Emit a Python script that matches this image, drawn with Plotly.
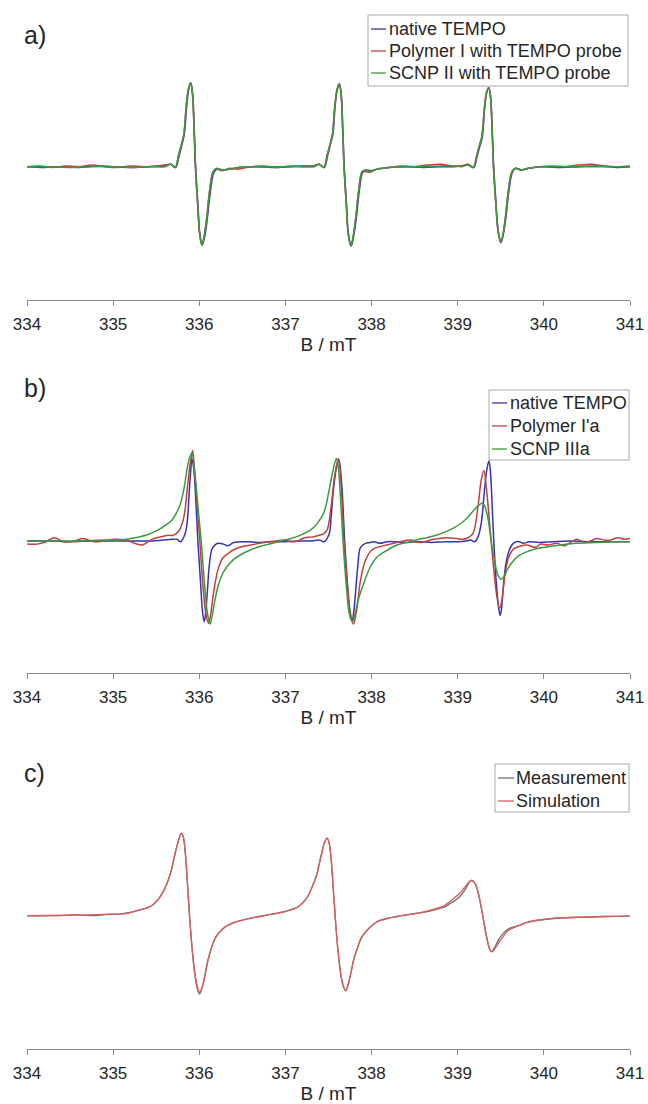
import plotly.graph_objects as go

# ---------------- data (B in mT, intensity in a.u.) ----------------
TICKS = [334, 335, 336, 337, 338, 339, 340, 341]

A_LABELS = ["native TEMPO", "Polymer I with TEMPO probe", "SCNP II with TEMPO probe"]
B_LABELS = ["native TEMPO", "Polymer I'a", "SCNP IIIa"]
C_LABELS = ["Measurement", "Simulation"]

A_BLUE = [(334.00, 0.00), (334.20, -0.01), (334.40, 0.00), (334.60, -0.01), (334.80, 0.01), (335.00, 0.00),
          (335.20, -0.01), (335.40, 0.00), (335.58, 0.01), (335.67, 0.03), (335.725, -0.01), (335.765, 0.13),
          (335.795, 0.26), (335.825, 0.40), (335.855, 0.77), (335.88, 0.98), (335.902, 1.04), (335.922, 0.92),
          (335.942, 0.46), (335.958, 0.00), (335.983, -0.45), (336.008, -0.85), (336.035, -0.98), (336.062, -0.88),
          (336.093, -0.65), (336.13, -0.30), (336.17, -0.07), (336.21, -0.03), (336.27, -0.04), (336.36, -0.03),
          (336.46, -0.01), (336.65, 0.00), (336.85, -0.01), (337.05, 0.00), (337.20, 0.01), (337.33, 0.01),
          (337.39, 0.03), (337.45, -0.01), (337.49, 0.14), (337.52, 0.27), (337.55, 0.40), (337.578, 0.77),
          (337.602, 0.96), (337.625, 1.03), (337.647, 0.92), (337.667, 0.45), (337.683, 0.00), (337.708, -0.45),
          (337.733, -0.85), (337.765, -0.99), (337.79, -0.88), (337.822, -0.65), (337.858, -0.30), (337.897, -0.07),
          (337.94, -0.04), (337.99, -0.05), (338.07, -0.03), (338.20, -0.01), (338.40, 0.00), (338.60, -0.01),
          (338.80, 0.00), (338.95, 0.00), (339.05, 0.01), (339.12, 0.02), (339.185, -0.01), (339.225, 0.13),
          (339.255, 0.25), (339.285, 0.37), (339.313, 0.73), (339.338, 0.93), (339.362, 0.98), (339.382, 0.87),
          (339.402, 0.42), (339.418, 0.00), (339.443, -0.43), (339.473, -0.82), (339.505, -0.94), (339.53, -0.84),
          (339.562, -0.61), (339.598, -0.27), (339.638, -0.06), (339.68, -0.02), (339.74, -0.04), (339.83, -0.02),
          (339.95, 0.00), (340.15, -0.01), (340.40, 0.00), (340.65, 0.01), (340.85, -0.01), (341.00, 0.00)]

A_RED = [(334.00, 0.00), (334.15, 0.01), (334.30, -0.01), (334.45, 0.01), (334.60, 0.00), (334.75, 0.02),
         (334.90, 0.00), (335.05, -0.01), (335.20, 0.01), (335.35, 0.00), (335.50, 0.01), (335.60, 0.02),
         (335.67, 0.03), (335.72, -0.01), (335.76, 0.15), (335.79, 0.27), (335.82, 0.40), (335.85, 0.78),
         (335.875, 0.98), (335.90, 1.05), (335.92, 0.92), (335.94, 0.45), (335.955, 0.00), (335.98, -0.45),
         (336.005, -0.85), (336.03, -0.98), (336.055, -0.88), (336.085, -0.65), (336.12, -0.30), (336.16, -0.07),
         (336.20, -0.03), (336.26, -0.05), (336.35, -0.02), (336.45, -0.03), (336.60, 0.00), (336.75, 0.01),
         (336.90, -0.01), (337.05, 0.01), (337.20, 0.00), (337.33, 0.01), (337.39, 0.03), (337.445, -0.01),
         (337.485, 0.15), (337.515, 0.27), (337.545, 0.40), (337.575, 0.78), (337.60, 0.97), (337.625, 1.04),
         (337.645, 0.92), (337.665, 0.45), (337.68, 0.00), (337.705, -0.45), (337.73, -0.85), (337.76, -0.99),
         (337.785, -0.88), (337.815, -0.65), (337.85, -0.30), (337.89, -0.07), (337.93, -0.06), (337.98, -0.07),
         (338.06, -0.03), (338.20, -0.01), (338.35, 0.01), (338.50, 0.00), (338.65, 0.02), (338.80, 0.03),
         (338.95, 0.01), (339.05, 0.01), (339.12, 0.03), (339.18, -0.01), (339.22, 0.14), (339.25, 0.26),
         (339.28, 0.38), (339.31, 0.74), (339.335, 0.93), (339.36, 0.99), (339.38, 0.88), (339.40, 0.43),
         (339.415, 0.00), (339.44, -0.43), (339.47, -0.82), (339.50, -0.95), (339.525, -0.85), (339.555, -0.62),
         (339.59, -0.28), (339.63, -0.06), (339.67, -0.02), (339.73, -0.04), (339.82, -0.02), (339.95, 0.00),
         (340.10, 0.01), (340.25, 0.00), (340.40, 0.02), (340.55, 0.03), (340.70, 0.01), (340.85, 0.00),
         (341.00, 0.01)]

A_GREEN = [(334.00, 0.00), (334.25, 0.00), (334.50, -0.01), (334.75, 0.00), (335.00, 0.00), (335.25, -0.01),
           (335.45, 0.00), (335.60, 0.00), (335.67, 0.03), (335.72, -0.01), (335.76, 0.15), (335.79, 0.27),
           (335.82, 0.40), (335.85, 0.78), (335.875, 0.98), (335.90, 1.05), (335.92, 0.92), (335.94, 0.45),
           (335.955, 0.00), (335.98, -0.45), (336.005, -0.85), (336.03, -0.98), (336.055, -0.88), (336.085, -0.65),
           (336.12, -0.30), (336.16, -0.06), (336.20, -0.02), (336.26, -0.04), (336.35, -0.03), (336.45, -0.01),
           (336.65, 0.00), (336.85, 0.00), (337.05, 0.00), (337.20, 0.00), (337.33, 0.00), (337.39, 0.03),
           (337.445, -0.01), (337.485, 0.15), (337.515, 0.27), (337.545, 0.40), (337.575, 0.78), (337.60, 0.97),
           (337.625, 1.04), (337.645, 0.92), (337.665, 0.45), (337.68, 0.00), (337.705, -0.45), (337.73, -0.85),
           (337.76, -0.99), (337.785, -0.88), (337.815, -0.65), (337.85, -0.30), (337.89, -0.06), (337.93, -0.04),
           (337.98, -0.06), (338.06, -0.03), (338.20, -0.01), (338.40, 0.00), (338.60, 0.00), (338.80, 0.01),
           (338.95, 0.01), (339.05, 0.00), (339.12, 0.03), (339.18, -0.01), (339.22, 0.14), (339.25, 0.26),
           (339.28, 0.38), (339.31, 0.74), (339.335, 0.93), (339.36, 0.99), (339.38, 0.88), (339.40, 0.43),
           (339.415, 0.00), (339.44, -0.43), (339.47, -0.82), (339.50, -0.945), (339.525, -0.85), (339.555, -0.62),
           (339.59, -0.28), (339.63, -0.06), (339.67, -0.02), (339.73, -0.04), (339.82, -0.02), (339.95, 0.00),
           (340.15, 0.00), (340.40, 0.00), (340.65, 0.00), (340.85, 0.00), (341.00, 0.00)]

B_BLUE = [(334.00, 0.01), (334.25, 0.01), (334.50, 0.00), (334.75, 0.01), (335.00, 0.01), (335.25, 0.01),
          (335.45, 0.01), (335.58, 0.02), (335.68, 0.03), (335.74, 0.03), (335.785, 0.00), (335.835, 0.10),
          (335.86, 0.25), (335.885, 0.65), (335.905, 0.95), (335.915, 1.04), (335.935, 0.92), (335.955, 0.62),
          (335.984, 0.00), (336.015, -0.52), (336.038, -0.88), (336.057, -1.00), (336.075, -0.88), (336.095, -0.60),
          (336.115, -0.31), (336.145, -0.10), (336.184, -0.04), (336.22, -0.02), (336.28, -0.03), (336.33, -0.05),
          (336.40, -0.01), (336.55, 0.00), (336.70, -0.01), (336.85, 0.00), (337.00, 0.00), (337.15, 0.01),
          (337.30, 0.01), (337.40, 0.02), (337.45, 0.00), (337.508, 0.10), (337.53, 0.30), (337.557, 0.65),
          (337.595, 0.94), (337.623, 1.02), (337.643, 0.85), (337.66, 0.62), (337.688, 0.00), (337.72, -0.52),
          (337.75, -0.88), (337.776, -0.98), (337.795, -0.86), (337.815, -0.62), (337.842, -0.28), (337.872, -0.07),
          (337.93, -0.02), (337.98, -0.01), (338.03, 0.00), (338.10, -0.02), (338.18, 0.00), (338.26, 0.00),
          (338.40, -0.01), (338.55, 0.00), (338.70, -0.01), (338.85, 0.00), (339.00, 0.00), (339.10, 0.01),
          (339.15, 0.02), (339.196, 0.00), (339.235, 0.06), (339.273, 0.23), (339.311, 0.65), (339.338, 0.90),
          (339.362, 1.01), (339.378, 0.90), (339.392, 0.65), (339.418, 0.02), (339.446, -0.48), (339.473, -0.81),
          (339.492, -0.92), (339.507, -0.85), (339.525, -0.62), (339.56, -0.27), (339.60, -0.10), (339.637, -0.03),
          (339.68, 0.00), (339.714, 0.00), (339.76, -0.02), (339.83, 0.00), (339.95, -0.01), (340.10, 0.00),
          (340.30, 0.01), (340.50, 0.00), (340.75, 0.00), (341.00, 0.00)]

B_RED = [(334.00, -0.03), (334.12, -0.03), (334.22, 0.00), (334.32, 0.05), (334.42, 0.00), (334.55, 0.01),
         (334.65, 0.04), (334.78, 0.00), (334.90, 0.01), (335.02, 0.03), (335.15, 0.02), (335.25, -0.02),
         (335.34, -0.04), (335.45, 0.03), (335.55, 0.06), (335.64, 0.08), (335.70, 0.08), (335.76, 0.13),
         (335.80, 0.22), (335.83, 0.36), (335.86, 0.66), (335.895, 0.98), (335.923, 1.14), (335.946, 0.86),
         (335.977, 0.44), (336.007, 0.00), (336.04, -0.52), (336.076, -0.90), (336.107, -1.02), (336.13, -0.92),
         (336.16, -0.68), (336.19, -0.48), (336.222, -0.33), (336.27, -0.21), (336.33, -0.15), (336.40, -0.10),
         (336.50, -0.06), (336.60, -0.04), (336.70, -0.02), (336.80, 0.00), (336.90, 0.01), (336.99, 0.02),
         (337.07, 0.00), (337.143, 0.01), (337.20, 0.04), (337.258, 0.055), (337.32, 0.06), (337.373, 0.075),
         (337.45, 0.105), (337.488, 0.16), (337.53, 0.44), (337.57, 0.81), (337.615, 1.04), (337.65, 0.65),
         (337.68, 0.00), (337.72, -0.55), (337.757, -0.92), (337.79, -1.03), (337.82, -0.90), (337.845, -0.70),
         (337.872, -0.48), (337.93, -0.23), (338.006, -0.10), (338.10, -0.06), (338.217, -0.03), (338.33, 0.00),
         (338.45, 0.02), (338.56, -0.01), (338.72, 0.03), (338.87, 0.05), (338.985, 0.04), (339.06, 0.03),
         (339.12, 0.05), (339.177, 0.10), (339.235, 0.44), (339.273, 0.77), (339.304, 0.89), (339.33, 0.70),
         (339.37, 0.23), (339.415, -0.31), (339.45, -0.65), (339.484, -0.83), (339.51, -0.75), (339.54, -0.48),
         (339.57, -0.28), (339.60, -0.17), (339.65, -0.09), (339.714, -0.06), (339.80, -0.04), (339.906, -0.07),
         (339.96, -0.03), (340.05, -0.04), (340.15, -0.02), (340.24, -0.05), (340.32, 0.00), (340.385, 0.03),
         (340.48, -0.01), (340.62, 0.04), (340.70, 0.02), (340.77, 0.02), (340.86, 0.05), (340.93, 0.03),
         (341.00, 0.04)]

B_GREEN = [(334.00, 0.01), (334.30, 0.01), (334.60, 0.01), (334.90, 0.02), (335.07, 0.02), (335.20, 0.04),
           (335.30, 0.06), (335.378, 0.08), (335.45, 0.11), (335.53, 0.15), (335.60, 0.20), (335.684, 0.27),
           (335.742, 0.375), (335.78, 0.47), (335.82, 0.65), (335.857, 0.90), (335.885, 1.04), (335.915, 1.11),
           (335.935, 0.99), (335.954, 0.81), (335.992, 0.35), (336.023, 0.00), (336.06, -0.52), (336.095, -0.90),
           (336.126, -1.03), (336.15, -0.92), (336.18, -0.74), (336.222, -0.54), (336.27, -0.40), (336.33, -0.30),
           (336.40, -0.22), (336.50, -0.15), (336.60, -0.10), (336.70, -0.06), (336.85, -0.02), (336.95, 0.01),
           (337.066, 0.04), (337.17, 0.08), (337.26, 0.125), (337.32, 0.17), (337.37, 0.23), (337.45, 0.375),
           (337.508, 0.65), (337.554, 0.90), (337.592, 1.04), (337.612, 0.95), (337.634, 0.65), (337.669, 0.00),
           (337.707, -0.55), (337.745, -0.92), (337.778, -1.00), (337.80, -0.94), (337.825, -0.82), (337.853, -0.70),
           (337.91, -0.52), (337.987, -0.31), (338.064, -0.19), (338.16, -0.12), (338.256, -0.06), (338.36, -0.02),
           (338.447, 0.00), (338.55, 0.03), (338.64, 0.05), (338.75, 0.08), (338.85, 0.12), (338.95, 0.17),
           (339.05, 0.24), (339.12, 0.31), (339.20, 0.41), (339.25, 0.46), (339.284, 0.48), (339.31, 0.45),
           (339.35, 0.30), (339.39, 0.00), (339.43, -0.25), (339.465, -0.41), (339.503, -0.47), (339.54, -0.43),
           (339.58, -0.34), (339.637, -0.25), (339.70, -0.18), (339.79, -0.13), (339.90, -0.09), (340.06, -0.06),
           (340.20, -0.04), (340.37, -0.02), (340.60, -0.01), (340.80, 0.00), (341.00, 0.00)]

C_MEAS = [(334.00, 0.00), (334.30, 0.00), (334.60, 0.01), (334.80, 0.00), (334.95, 0.02), (335.07, 0.02),
          (335.20, 0.04), (335.30, 0.07), (335.40, 0.10), (335.454, 0.13), (335.52, 0.20), (335.57, 0.28),
          (335.62, 0.39), (335.666, 0.53), (335.72, 0.78), (335.761, 0.95), (335.792, 1.03), (335.815, 0.98),
          (335.838, 0.78), (335.86, 0.45), (335.877, 0.155), (335.895, -0.12), (335.915, -0.39), (335.94, -0.66),
          (335.96, -0.82), (335.985, -0.94), (336.003, -0.98), (336.025, -0.93), (336.045, -0.85), (336.07, -0.72),
          (336.10, -0.56), (336.145, -0.39), (336.18, -0.29), (336.222, -0.22), (336.30, -0.14), (336.375, -0.095),
          (336.50, -0.055), (336.60, -0.03), (336.70, -0.01), (336.80, 0.01), (336.90, 0.03), (336.99, 0.05),
          (337.05, 0.07), (337.13, 0.10), (337.20, 0.16), (337.26, 0.24), (337.31, 0.36), (337.36, 0.50),
          (337.41, 0.73), (337.45, 0.90), (337.483, 0.97), (337.505, 0.92), (337.53, 0.72), (337.55, 0.42),
          (337.568, 0.14), (337.585, -0.12), (337.605, -0.38), (337.63, -0.63), (337.65, -0.78), (337.675, -0.89),
          (337.70, -0.94), (337.72, -0.89), (337.74, -0.81), (337.765, -0.69), (337.795, -0.54), (337.834, -0.41),
          (337.88, -0.28), (337.95, -0.18), (338.064, -0.075), (338.18, -0.035), (338.294, -0.01), (338.40, 0.01),
          (338.525, 0.03), (338.65, 0.05), (338.755, 0.08), (338.85, 0.11), (338.908, 0.15), (338.97, 0.19),
          (339.024, 0.24), (339.07, 0.30), (339.10, 0.35), (339.13, 0.41), (339.158, 0.44), (339.18, 0.43),
          (339.21, 0.38), (339.235, 0.30), (339.265, 0.15), (339.292, -0.01), (339.318, -0.17), (339.342, -0.30),
          (339.365, -0.40), (339.388, -0.45), (339.41, -0.43), (339.446, -0.36), (339.48, -0.29), (339.52, -0.23),
          (339.58, -0.17), (339.65, -0.14), (339.716, -0.12), (339.80, -0.085), (339.906, -0.06), (340.10, -0.035),
          (340.385, -0.02), (340.70, -0.01), (341.00, -0.005)]

C_SIM = [(334.00, 0.00), (334.50, 0.005), (334.90, 0.015), (335.07, 0.02), (335.20, 0.04), (335.30, 0.07),
         (335.40, 0.10), (335.454, 0.13), (335.52, 0.20), (335.57, 0.28), (335.62, 0.39), (335.666, 0.53),
         (335.72, 0.78), (335.761, 0.95), (335.792, 1.03), (335.815, 0.98), (335.838, 0.78), (335.86, 0.45),
         (335.877, 0.155), (335.895, -0.12), (335.915, -0.39), (335.94, -0.65), (335.96, -0.80), (335.985, -0.92),
         (336.003, -0.96), (336.025, -0.92), (336.045, -0.85), (336.07, -0.72), (336.10, -0.56), (336.145, -0.39),
         (336.18, -0.29), (336.222, -0.22), (336.30, -0.14), (336.375, -0.095), (336.50, -0.055), (336.60, -0.03),
         (336.70, -0.01), (336.80, 0.01), (336.90, 0.03), (336.99, 0.05), (337.05, 0.07), (337.13, 0.10),
         (337.20, 0.16), (337.26, 0.24), (337.31, 0.36), (337.36, 0.50), (337.41, 0.73), (337.45, 0.90),
         (337.483, 0.97), (337.505, 0.92), (337.53, 0.72), (337.55, 0.42), (337.568, 0.14), (337.585, -0.12),
         (337.605, -0.38), (337.63, -0.63), (337.65, -0.78), (337.675, -0.89), (337.70, -0.93), (337.72, -0.89),
         (337.74, -0.81), (337.765, -0.69), (337.795, -0.54), (337.834, -0.41), (337.88, -0.28), (337.95, -0.18),
         (338.064, -0.075), (338.18, -0.035), (338.294, -0.01), (338.40, 0.01), (338.525, 0.03), (338.65, 0.06),
         (338.755, 0.09), (338.85, 0.13), (338.908, 0.175), (338.97, 0.23), (339.024, 0.28), (339.07, 0.34),
         (339.10, 0.38), (339.13, 0.42), (339.158, 0.44), (339.18, 0.43), (339.21, 0.38), (339.235, 0.30),
         (339.265, 0.15), (339.292, -0.01), (339.318, -0.17), (339.342, -0.30), (339.365, -0.40), (339.388, -0.45),
         (339.41, -0.44), (339.446, -0.39), (339.48, -0.33), (339.52, -0.27), (339.58, -0.19), (339.65, -0.15),
         (339.716, -0.12), (339.80, -0.085), (339.906, -0.06), (340.10, -0.035), (340.385, -0.02), (340.70, -0.01),
         (341.00, -0.005)]

# ---------------- styling ----------------
W, H = 648, 1104
BLUE, RED, GREEN = "#3434b4", "#c04040", "#3c9a3c"
GRAY, SIMRED = "#6e6e6e", "#d46060"
TXT = "#262626"
AXC = "#8a8a8a"
FONT = "Liberation Sans, Arial, sans-serif"

X0, X1 = 27, 630  # pixel x of 334 and 341


def px(x):
    return x / W


def py(y):
    return 1 - y / H


# panel: (axis-line pixel, top pixel, yrange)
PANELS = [
    (300, 10, [-1.666, 1.959]),
    (673, 385, [-1.641, 1.959]),
    (1049, 760, [-1.666, 1.946]),
]

fig = go.Figure()


def add(data, name, color, idx, width=1.5):
    xs = [p[0] for p in data]
    ys = [p[1] for p in data]
    sfx = "" if idx == 1 else str(idx)
    fig.add_trace(go.Scatter(x=xs, y=ys, mode="lines", name=name, showlegend=False,
                             line=dict(color=color, width=width, shape="spline", smoothing=1.0),
                             xaxis="x" + sfx, yaxis="y" + sfx))


add(A_BLUE, A_LABELS[0], BLUE, 1)
add(A_RED, A_LABELS[1], RED, 1)
add(A_GREEN, A_LABELS[2], GREEN, 1)
add(B_BLUE, B_LABELS[0], BLUE, 2)
add(B_RED, B_LABELS[1], RED, 2)
add(B_GREEN, B_LABELS[2], GREEN, 2)
add(C_MEAS, C_LABELS[0], GRAY, 3, 1.3)
add(C_SIM, C_LABELS[1], SIMRED, 3, 1.4)

layout = dict(width=W, height=H, margin=dict(l=0, r=0, t=0, b=0),
              paper_bgcolor="white", plot_bgcolor="white", showlegend=False,
              font=dict(family=FONT, color=TXT))

for i, (bot, top, yr) in enumerate(PANELS, start=1):
    sfx = "" if i == 1 else str(i)
    layout["xaxis" + sfx] = dict(
        domain=[px(X0), px(X1)], range=[334, 341], anchor="y" + sfx,
        tickvals=TICKS, ticktext=[str(t) for t in TICKS],
        showline=True, linecolor=AXC, linewidth=1, ticks="outside", ticklen=5,
        tickcolor=AXC, tickwidth=1, showgrid=False, zeroline=False,
        tickfont=dict(size=17, color=TXT, family=FONT), automargin=False,
        ticklabelstandoff=4, ticklabeloverflow="allow",
        title=dict(text="B / mT", font=dict(size=19, color=TXT, family=FONT), standoff=4))
    layout["yaxis" + sfx] = dict(domain=[py(bot), py(top)], range=yr, visible=False,
                                 anchor="x" + sfx, automargin=False)

shapes = []
annotations = []

# panel labels
for lab, yc in [("a)", 35), ("b)", 388), ("c)", 773)]:
    annotations.append(dict(text=lab, x=px(22), y=py(yc), xref="paper", yref="paper",
                            xanchor="left", yanchor="middle", showarrow=False,
                            font=dict(size=25, color=TXT, family=FONT)))

# legends: (box l, t, r, b), sample x0, x1, text x, rows[(y, label, color)]
LEGENDS = [
    ((368, 15, 628, 86), 371, 386, 387, [(29, A_LABELS[0], BLUE), (51, A_LABELS[1], RED), (73, A_LABELS[2], GREEN)]),
    ((489, 390, 629, 460), 492, 507, 508, [(403, B_LABELS[0], BLUE), (426, B_LABELS[1], RED), (449, B_LABELS[2], GREEN)]),
    ((495, 764, 629, 812), 498, 514, 514, [(778, C_LABELS[0], GRAY), (801, C_LABELS[1], SIMRED)]),
]
for (l, t, r, b), s0, s1, tx, rows in LEGENDS:
    shapes.append(dict(type="rect", xref="paper", yref="paper", x0=px(l), x1=px(r), y0=py(b), y1=py(t),
                       line=dict(color="#a8a8a8", width=1), fillcolor="white", layer="above"))
    for yc, lab, col in rows:
        shapes.append(dict(type="line", xref="paper", yref="paper", x0=px(s0), x1=px(s1), y0=py(yc), y1=py(yc),
                           line=dict(color=col, width=1.3), layer="above"))
        annotations.append(dict(text=lab, x=px(tx), y=py(yc), xref="paper", yref="paper",
                                xanchor="left", yanchor="middle", showarrow=False,
                                font=dict(size=18, color=TXT, family=FONT)))

layout["shapes"] = shapes
layout["annotations"] = annotations
fig.update_layout(**layout)

fig.write_html("out.html", config={"displayModeBar": False},
               post_script="document.body.style.margin='0';")
